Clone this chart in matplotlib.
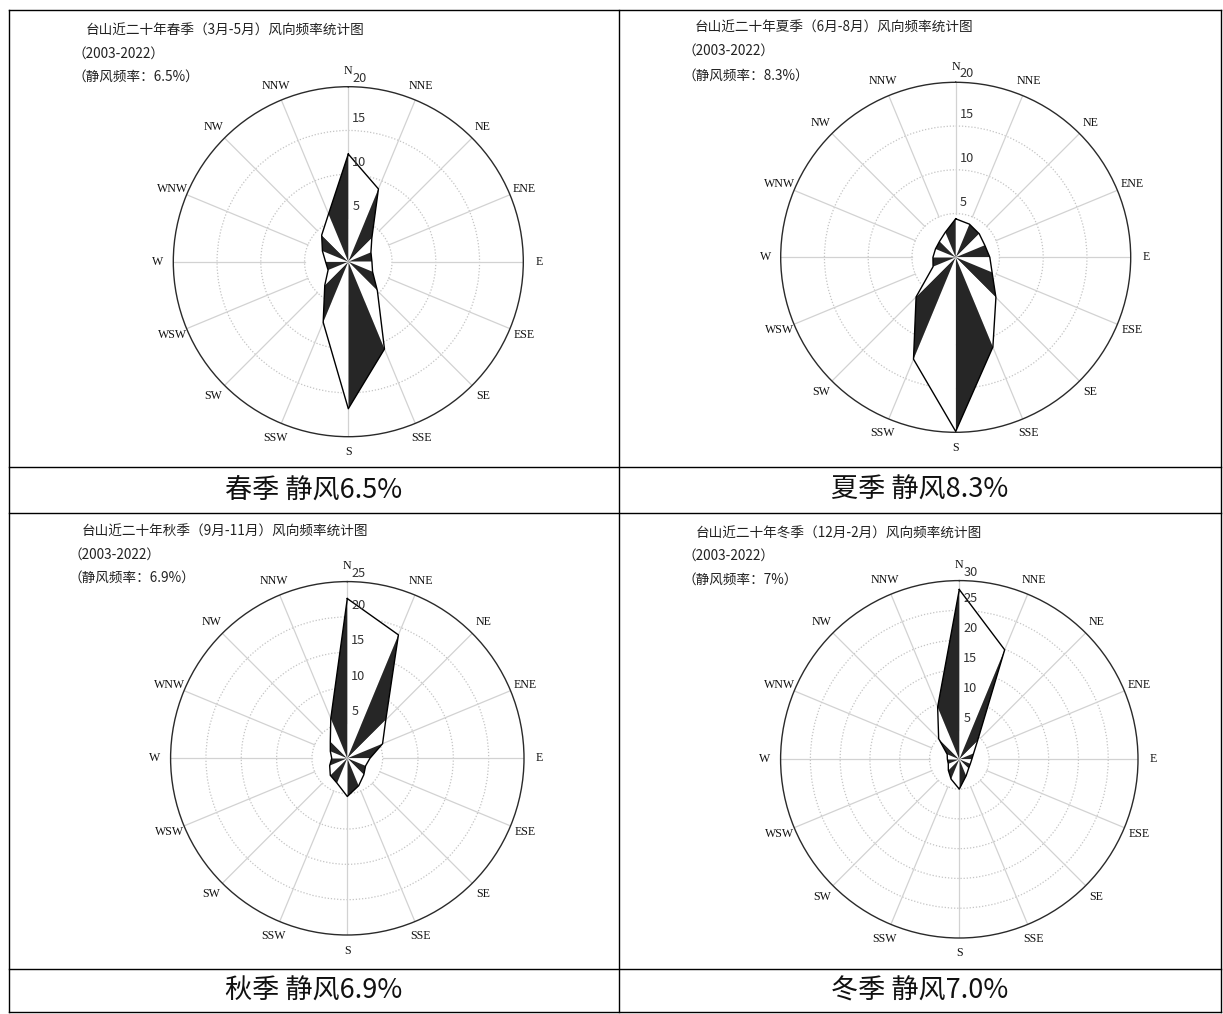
import numpy as np
import matplotlib
matplotlib.use('Agg')
import matplotlib.pyplot as plt
from matplotlib.lines import Line2D

plt.rcParams['font.family'] = ['Noto Sans CJK SC', 'DejaVu Sans']

# ---------------- data ----------------
directions = ['N', 'NNE', 'NE', 'ENE', 'E', 'ESE', 'SE', 'SSE',
              'S', 'SSW', 'SW', 'WSW', 'W', 'WNW', 'NW', 'NNW']

spring = [12.3, 9.0, 3.8, 2.8, 2.7, 3.0, 4.7, 10.8, 16.8, 7.5, 3.8, 2.5, 2.6, 3.2, 4.3, 5.9]
summer = [4.4, 4.1, 3.8, 3.6, 3.9, 4.5, 6.5, 11.1, 19.9, 12.6, 6.4, 2.8, 2.6, 2.5, 2.6, 3.1]
autumn = [22.6, 18.9, 7.7, 5.4, 3.2, 2.8, 3.3, 4.2, 5.4, 3.8, 3.4, 2.7, 2.2, 2.6, 3.4, 6.1]
winter = [28.5, 19.9, 4.3, 2.6, 2.1, 2.0, 2.2, 3.0, 5.0, 3.6, 2.6, 2.0, 2.0, 2.2, 4.9, 9.5]

season_names = ['春季', '夏季', '秋季', '冬季']
month_ranges = ['3月-5月', '6月-8月', '9月-11月', '12月-2月']
calm_title = ['6.5%', '8.3%', '6.9%', '7%']
calm_caption = ['6.5%', '8.3%', '6.9%', '7.0%']
r_max = [20, 20, 25, 30]
ring_step = 5
period = '2003-2022'

# ---------------- layout (pixels) ----------------
W, H = 1223, 1014
fig = plt.figure(figsize=(W / 100, H / 100), dpi=100)
fig.patch.set_facecolor('white')


def fx(x):
    return x / W


def fy(y):
    return 1 - y / H


panels = [
    dict(c=(348.3, 261.7), R=175.0, tx=86, ty=(31, 54, 77), cap=(314, 490)),
    dict(c=(955.7, 257.3), R=175.0, tx=695, ty=(28, 51, 76), cap=(920, 490)),
    dict(c=(347.3, 758.3), R=176.7, tx=82, ty=(532, 555, 578), cap=(314, 991)),
    dict(c=(959.3, 759.3), R=178.7, tx=696, ty=(534, 556, 580), cap=(920, 991)),
]
series = [spring, summer, autumn, winter]

theta = np.deg2rad(np.arange(16) * 22.5)
dark = '#262626'

for k, p in enumerate(panels):
    cx, cy = p['c']
    R = p['R']
    ax = fig.add_axes([fx(cx - R), fy(cy + R), 2 * R / W, 2 * R / H],
                      projection='polar')
    ax.set_theta_zero_location('N')
    ax.set_theta_direction(-1)
    rm = r_max[k]
    ax.set_ylim(0, rm)
    rings = np.arange(ring_step, rm, ring_step)
    ax.set_xticks([])
    ax.set_yticks(rings)
    ax.set_yticklabels([])
    ax.set_axisbelow(True)
    ax.yaxis.grid(True, linestyle=(0, (1, 1.5)), color='#c4c4c4', linewidth=0.9)
    ax.xaxis.grid(False)
    ax.spines['polar'].set_color('#2a2a2a')
    ax.spines['polar'].set_linewidth(1.0)
    ax.patch.set_alpha(0)

    # spokes
    for t in theta:
        ax.plot([t, t], [ring_step, rm], color='#d2d2d2', lw=0.9, zorder=1)

    vals = series[k]
    # alternating triangles between adjacent directions
    for i in range(16):
        j = (i + 1) % 16
        tj = theta[j] + (2 * np.pi if j == 0 else 0)
        ax.fill([0, theta[i], tj], [0, vals[i], vals[j]],
                facecolor=dark if i % 2 == 1 else 'white',
                edgecolor='none', zorder=3)
    # outline
    ax.plot(list(theta) + [theta[0] + 2 * np.pi], list(vals) + [vals[0]],
            color='black', lw=1.0, zorder=4)

    # direction labels
    for t, name in zip(theta, directions):
        ax.text(t, rm * (1 + 15.5 / R), name, ha='center', va='center',
                family='Liberation Serif', fontsize=8.6, color='#111111',
                clip_on=False)

    # ring labels
    for v in np.arange(ring_step, rm + 1, ring_step):
        off = 2 if v == rm else 5
        ax.annotate(str(v), xy=(0, v), xytext=(4, off),
                    textcoords='offset pixels', ha='left', va='bottom',
                    fontsize=9.2, color='#333333', zorder=6,
                    annotation_clip=False)

    # header texts
    tx = p['tx']
    ty = p['ty']
    fig.text(fx(tx), fy(ty[0]),
             '台山近二十年' + season_names[k] + '（' + month_ranges[k] + '）风向频率统计图',
             ha='left', va='center', fontsize=9.8, color='#222222')
    fig.text(fx(tx - 13), fy(ty[1]), '（' + period + '）',
             ha='left', va='center', fontsize=9.8, color='#222222')
    fig.text(fx(tx - 13), fy(ty[2]), '（静风频率：' + calm_title[k] + '）',
             ha='left', va='center', fontsize=9.8, color='#222222')

    # caption
    fig.text(fx(p['cap'][0]), fy(p['cap'][1]),
             season_names[k] + ' 静风' + calm_caption[k],
             ha='center', va='center', fontsize=19.5, color='#111111')

# ---------------- table frame ----------------
xs = [9, 619, 1221]
ys = [10, 467, 513, 969, 1012]
for x in xs:
    fig.add_artist(Line2D([fx(x), fx(x)], [fy(ys[0]), fy(ys[-1])],
                          color='black', lw=1.0))
for y in ys:
    fig.add_artist(Line2D([fx(xs[0]), fx(xs[-1])], [fy(y), fy(y)],
                          color='black', lw=1.0))

fig.savefig('out.png', dpi=100, facecolor='white')
